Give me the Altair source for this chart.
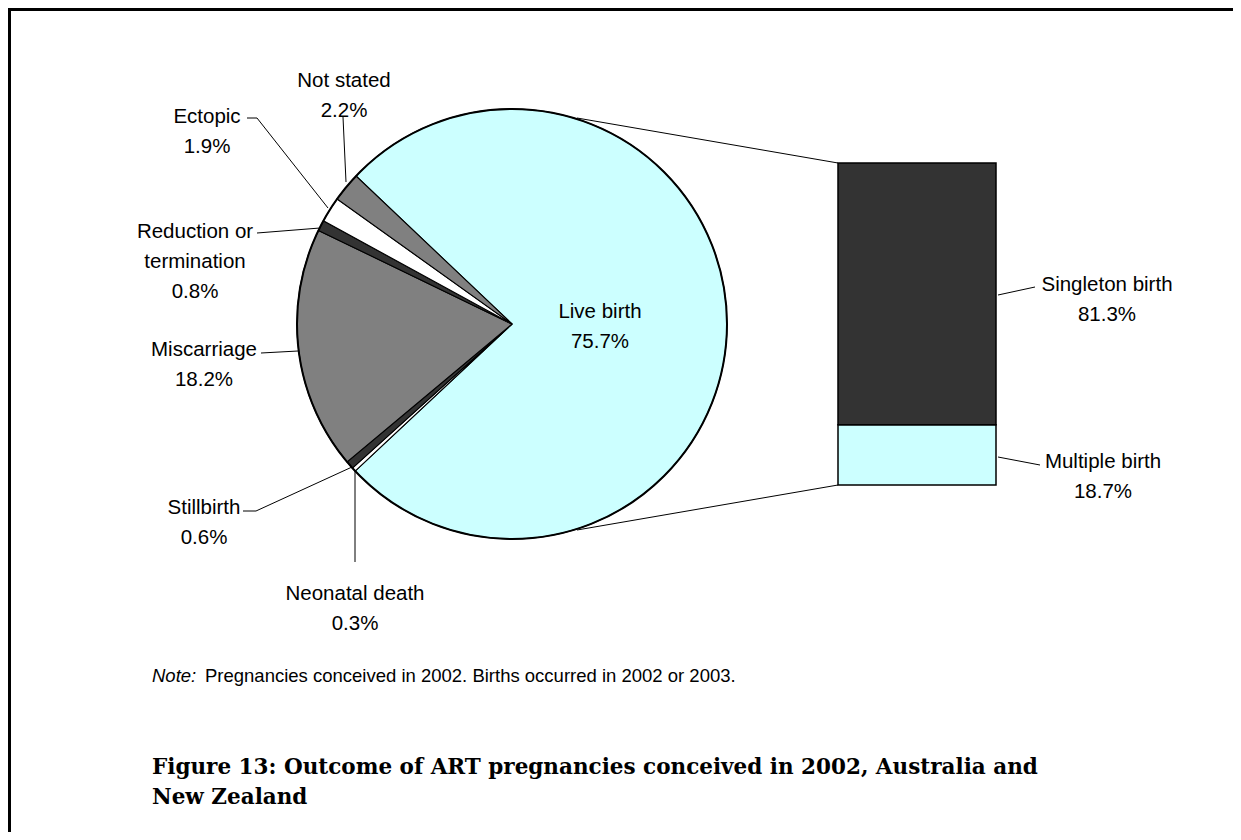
import math
import altair as alt
import pandas as pd

# ---------------- data ----------------
outcomes = ["Live birth", "Neonatal death", "Stillbirth", "Miscarriage",
            "Reduction or termination", "Ectopic", "Not stated"]
outcome_pct = [75.7, 0.3, 0.6, 18.2, 0.8, 1.9, 2.2]
birth_types = ["Multiple birth", "Singleton birth"]
birth_pct = [18.7, 81.3]
note_label = "Note:"
note_text = "Pregnancies conceived in 2002. Births occurred in 2002 or 2003."
title_lines = ["Figure 13: Outcome of ART pregnancies conceived in 2002, Australia and",
               "New Zealand"]

# ---------------- styles / layout ----------------
pie_colors = ["#CCFFFF", "#FFFFFF", "#333333", "#808080", "#333333", "#FFFFFF", "#808080"]
bar_colors = ["#CCFFFF", "#333333"]
wrap = {"Reduction or termination": "Reduction or\ntermination"}
M = 8                      # page margin
W, H = 1241 - 2 * M, 840 - 2 * M
FONT = "Liberation Sans"
pie_cx, pie_cy, pie_r = 512, 324, 215
start = math.radians(-46.5)
bar_x0, bar_x1, bar_top, bar_bottom = 838, 996, 163, 485
# label block centres (page coordinates)
label_pos = {
    "Not stated": (344, 81), "Ectopic": (207, 117),
    "Reduction or termination": (195, 232), "Miscarriage": (204, 350),
    "Stillbirth": (204, 508), "Neonatal death": (355, 594),
    "Live birth": (600, 312), "Singleton birth": (1107, 285),
    "Multiple birth": (1103, 462),
}
segments = [
    (343, 117, 346, 182),
    (247, 118, 257, 118), (257, 118, 328, 208),
    (257, 233, 320, 228),
    (261, 353, 298, 351),
    (243, 511, 256, 511), (256, 511, 352, 467),
    (355, 470, 355, 562),
    (998, 295, 1035, 287),
    (998, 457, 1040, 465),
    (577, 118, 838, 163),
    (577, 530, 838, 485),
]

# ---------------- tables ----------------
pie_df = pd.DataFrame({"outcome": outcomes, "pct": outcome_pct,
                       "order": list(range(len(outcomes)))})
bar_df = pd.DataFrame({"type": birth_types, "pct": birth_pct})
bar_df["hi"] = bar_df["pct"].cumsum()
bar_df["lo"] = bar_df["hi"] - bar_df["pct"]

lab_rows = []
for name, v in list(zip(outcomes, outcome_pct)) + list(zip(birth_types, birth_pct)):
    x, y = label_pos[name]
    lab_rows.append({"x": x - M, "y": y - M,
                     "text": wrap.get(name, name) + "\n" + f"{v:.1f}%"})
lab_df = pd.DataFrame(lab_rows)
seg_df = pd.DataFrame([{"x": a - M, "y": b - M, "x2": c - M, "y2": d - M}
                       for a, b, c, d in segments])

# ---------------- marks ----------------
pie = alt.Chart(pie_df).mark_arc(outerRadius=pie_r, stroke="black", strokeWidth=1.1).encode(
    theta=alt.Theta("pct:Q", stack=True,
                    scale=alt.Scale(range=[start, start + 2 * math.pi])),
    order=alt.Order("order:Q"),
    color=alt.Color("outcome:N", scale=alt.Scale(domain=outcomes, range=pie_colors),
                    legend=None),
    x=alt.value(pie_cx - M), y=alt.value(pie_cy - M),
)

rim = alt.Chart(pie_df).mark_arc(outerRadius=pie_r, filled=False, stroke="black",
                                 strokeWidth=2).encode(
    theta=alt.Theta("sum(pct):Q"),
    x=alt.value(pie_cx - M), y=alt.value(pie_cy - M),
)

bar = alt.Chart(bar_df).mark_bar(stroke="black", strokeWidth=1.5).encode(
    x=alt.value(bar_x0 - M), x2=alt.value(bar_x1 - M),
    y=alt.Y("lo:Q", axis=None,
            scale=alt.Scale(domain=[0, 100], range=[bar_bottom - M, bar_top - M])),
    y2="hi:Q",
    color=alt.Color("type:N", scale=alt.Scale(domain=birth_types, range=bar_colors),
                    legend=None),
)

lines = alt.Chart(seg_df).mark_rule(color="black", strokeWidth=1).encode(
    x=alt.X("x:Q", scale=None, axis=None), y=alt.Y("y:Q", scale=None, axis=None),
    x2="x2:Q", y2="y2:Q",
)

labels = alt.Chart(lab_df).mark_text(font=FONT, fontSize=20.5, lineBreak="\n",
                                     lineHeight=30, align="center", baseline="middle",
                                     color="black").encode(
    x=alt.X("x:Q", scale=None, axis=None), y=alt.Y("y:Q", scale=None, axis=None),
    text="text:N",
)

note_df = pd.DataFrame({"x": [152 - M, 205 - M], "y": [676 - M, 676 - M],
                        "text": [note_label, note_text]})
note_a = alt.Chart(note_df.iloc[[0]]).mark_text(font=FONT, fontSize=18.5, fontStyle="italic",
                                               align="left", baseline="middle").encode(
    x=alt.X("x:Q", scale=None, axis=None), y=alt.Y("y:Q", scale=None, axis=None), text="text:N")
note_b = alt.Chart(note_df.iloc[[1]]).mark_text(font=FONT, fontSize=18.5,
                                               align="left", baseline="middle").encode(
    x=alt.X("x:Q", scale=None, axis=None), y=alt.Y("y:Q", scale=None, axis=None), text="text:N")

title_df = pd.DataFrame({"x": [152 - M, 152 - M], "y": [774 - M, 804 - M], "text": title_lines})
title = alt.Chart(title_df).mark_text(font="DejaVu Serif", fontSize=21.5, fontWeight="bold",
                                      align="left", baseline="alphabetic").encode(
    x=alt.X("x:Q", scale=None, axis=None), y=alt.Y("y:Q", scale=None, axis=None), text="text:N")

border_df = pd.DataFrame({"x": [0, 1.5], "y": [1.5, 0], "x2": [W, 1.5], "y2": [1.5, H]})
border = alt.Chart(border_df).mark_rule(color="black", strokeWidth=3).encode(
    x=alt.X("x:Q", scale=None, axis=None), y=alt.Y("y:Q", scale=None, axis=None),
    x2="x2:Q", y2="y2:Q",
)

chart = alt.layer(lines, pie, rim, bar, labels, note_a, note_b, title, border).resolve_scale(
    x="independent", y="independent", color="independent", theta="independent"
).properties(
    width=W, height=H, padding=0, autosize=alt.AutoSizeParams(type="none")
).configure_view(stroke=None).configure(background="white")

chart.save("out.html", embed_options={"renderer": "svg", "actions": False})
